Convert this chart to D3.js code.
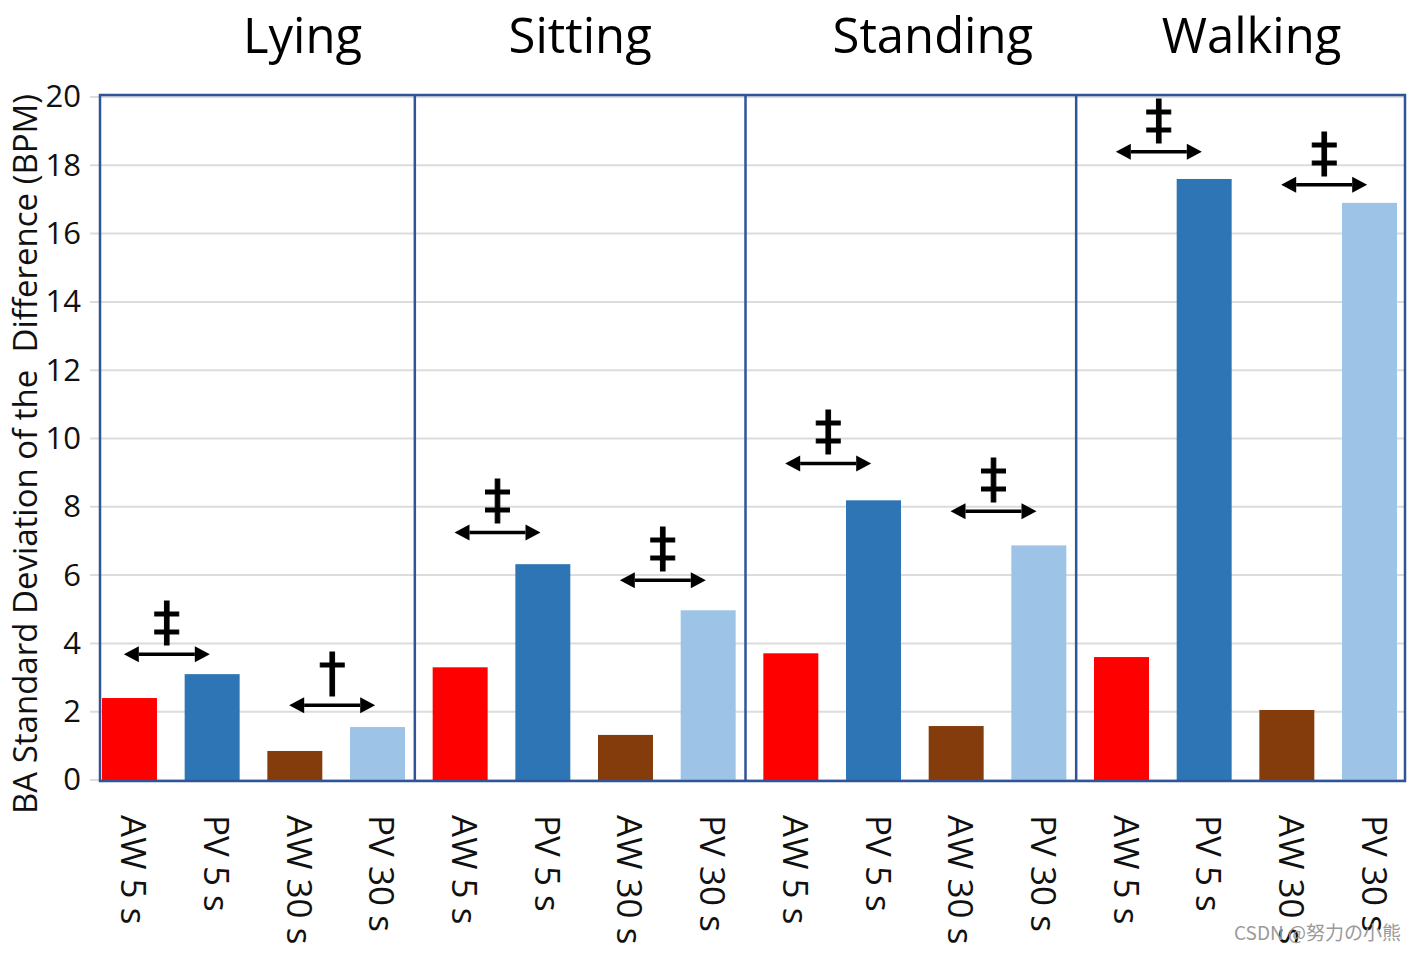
<!DOCTYPE html>
<html><head><meta charset="utf-8">
<script src="https://cdn.jsdelivr.net/npm/d3@7"></script>
<style>body{margin:0;background:#fff}svg{display:block}text{font-family:"Open Sans",sans-serif}</style>
</head><body><svg id="c" width="1416" height="953"></svg>
<script>
const activities = ["Lying", "Sitting", "Standing", "Walking"];
const methods = ["AW 5 s", "PV 5 s", "AW 30 s", "PV 30 s"];
const lyingVals = [2.40, 3.10, 0.85, 1.55];
const sittingVals = [3.30, 6.32, 1.32, 4.97];
const standingVals = [3.71, 8.19, 1.58, 6.87];
const walkingVals = [3.60, 17.6, 2.05, 16.9];
const yTicks = [0, 2, 4, 6, 8, 10, 12, 14, 16, 18, 20];
// significance markers: [activity, pair index (0 = 5 s, 1 = 30 s), arrow height, symbol]
const sigMarks = [
  ["Lying", 0, 3.68, "‡"], ["Lying", 1, 2.19, "†"],
  ["Sitting", 0, 7.25, "‡"], ["Sitting", 1, 5.85, "‡"],
  ["Standing", 0, 9.27, "‡"], ["Standing", 1, 7.87, "‡"],
  ["Walking", 0, 18.4, "‡"], ["Walking", 1, 17.43, "‡"]
];
const colors = ["#ff0000", "#2e75b6", "#843c0c", "#9dc3e6"];
const yLabel = "BA Standard Deviation of the  Difference (BPM)";

const valsByAct = {Lying: lyingVals, Sitting: sittingVals, Standing: standingVals, Walking: walkingVals};
const data = [];
activities.forEach(a => methods.forEach((m, j) => data.push({act: a, m, j, key: a + "|" + m, v: valsByAct[a][j]})));

const svg = d3.select("#c");
const frame = {l: 100, r: 1405, t: 95, b: 781};
const x = d3.scaleBand().domain(data.map(d => d.key)).range([102, 1397]).paddingInner(0.335).paddingOuter(0);
const y = d3.scaleLinear().domain([0, 20]).range([780, 97]);

// gridlines
svg.append("g").selectAll("line").data(yTicks).join("line")
  .attr("x1", 90).attr("x2", frame.r).attr("y1", d => y(d)).attr("y2", d => y(d))
  .attr("stroke", "#dcdcdc").attr("stroke-width", 2);

// y axis ticks
const yAxis = d3.axisLeft(y).tickValues(yTicks).tickSize(0).tickPadding(0);
const ga = svg.append("g").attr("transform", "translate(81,0)").call(yAxis);
ga.select(".domain").remove();
ga.selectAll("text").attr("font-size", 31).attr("fill", "#111").style("font-family", "'Open Sans',sans-serif");

// bars
svg.append("g").selectAll("rect").data(data).join("rect")
  .attr("x", d => x(d.key)).attr("width", x.bandwidth())
  .attr("y", d => y(d.v)).attr("height", d => y(0) - y(d.v))
  .attr("fill", d => colors[d.j]);

// frame and dividers
svg.append("rect").attr("x", frame.l).attr("y", frame.t).attr("width", frame.r - frame.l).attr("height", frame.b - frame.t)
  .attr("fill", "none").attr("stroke", "#2f5597").attr("stroke-width", 2.5);
const step = x.step();
activities.slice(1).forEach(a => {
  const xd = x(a + "|" + methods[0]) - (step - x.bandwidth()) / 2 - 4;
  svg.append("line").attr("x1", xd).attr("x2", xd).attr("y1", frame.t).attr("y2", frame.b)
    .attr("stroke", "#2f5597").attr("stroke-width", 2.5);
});

// titles
const titleDx = [49, -4, 18, 6];
activities.forEach((a, i) => {
  const c = (x(a + "|" + methods[0]) + x(a + "|" + methods[3]) + x.bandwidth()) / 2;
  svg.append("text").attr("x", c + titleDx[i]).attr("y", 53).attr("text-anchor", "middle")
    .attr("font-size", 49).attr("fill", "#000").text(a);
});

// x labels (rotated)
svg.append("g").selectAll("text").data(data).join("text")
  .attr("transform", d => `translate(${x(d.key) + x.bandwidth() / 2 - 8},815) rotate(90)`)
  .attr("font-size", 35).attr("fill", "#111").text(d => d.m);

// y label
svg.append("text").attr("transform", "translate(37,454) rotate(-90)").attr("text-anchor", "middle")
  .attr("font-size", 33).attr("fill", "#111").style("white-space", "pre").text(yLabel);

// significance arrows
const ag = svg.append("g");
sigMarks.forEach(([a, p, h, s]) => {
  const k1 = a + "|" + methods[p * 2], k2 = a + "|" + methods[p * 2 + 1];
  const cx = (x(k1) + x(k2) + x.bandwidth()) / 2 - 4;
  const yy = y(h), hw = 43, ah = 15, aw = 8;
  ag.append("line").attr("x1", cx - hw + ah).attr("x2", cx + hw - ah).attr("y1", yy).attr("y2", yy)
    .attr("stroke", "#000").attr("stroke-width", 3.5);
  ag.append("path").attr("d", `M${cx - hw},${yy}L${cx - hw + ah},${yy - aw}L${cx - hw + ah},${yy + aw}Z`).attr("fill", "#000");
  ag.append("path").attr("d", `M${cx + hw},${yy}L${cx + hw - ah},${yy - aw}L${cx + hw - ah},${yy + aw}Z`).attr("fill", "#000");
  ag.append("text").attr("x", cx).attr("y", yy - 14).attr("text-anchor", "middle")
    .attr("font-size", 54).style("font-family", "'DejaVu Sans',sans-serif")
    .attr("fill", "#000").attr("stroke", "#000").attr("stroke-width", 1).text(s);
});

// watermark
svg.append("text").attr("x", 1401).attr("y", 940).attr("text-anchor", "end")
  .attr("font-size", 19).attr("fill", "#9a9a9a").style("font-family", "'Noto Sans CJK SC',sans-serif")
  .text("CSDN @努力の小熊");
</script></body></html>
